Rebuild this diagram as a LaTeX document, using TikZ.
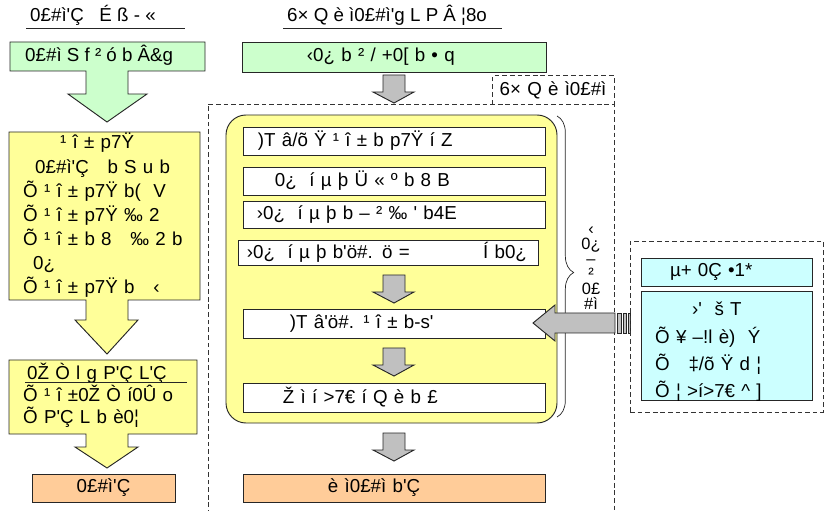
\documentclass[tikz,border=0pt]{standalone}
\usepackage{fontspec}
\newfontfamily\diafont{Liberation Sans}
\definecolor{boxgreen}{RGB}{204,255,204}
\definecolor{boxyellow}{RGB}{255,255,153}
\definecolor{boxorange}{RGB}{255,204,153}
\definecolor{boxcyan}{RGB}{204,255,255}
\definecolor{arrowgray}{RGB}{192,192,192}
\usetikzlibrary{decorations.pathreplacing}

\begin{document}
\begin{tikzpicture}[x=0.03cm, y=-0.03cm,
  every node/.style={font=\diafont\fontsize{16}{20}\selectfont, inner sep=0pt},
  rule/.style={draw=black!85, line width=0.8pt},
  box/.style={rectangle, draw=black!85, line width=0.8pt, align=left},
  txt/.style={anchor=base west, align=left},
  callout/.style={draw=black!85, line width=0.8pt},
  garrow/.style={draw=black!85, line width=0.8pt, fill=arrowgray},
  dframe/.style={draw=black!80, line width=0.8pt, dash pattern=on 4pt off 2.5pt}
]
  \useasboundingbox (0,0) rectangle (833,511);
  % left column
  \node[txt] (ltitle) at (30,22) {0£\#ì'Ç\ \ \ É ß - «};
  \draw[rule] (26,28) -- (185,28);
  \draw[callout, fill=boxgreen] (10,42) -- (205,42) -- (205,71) -- (128,71) -- (128,94) -- (147,94) -- (107,122) -- (68,94) -- (86,94) -- (86,71) -- (10,71) -- cycle;
  \node[txt] (lgtxt) at (25,62) {0£\#ì S f ² ó b Â\&g};
  \draw[callout, fill=boxyellow] (9,132) -- (200,132) -- (200,300) -- (128,300) -- (128,320) -- (138,320) -- (107,354) -- (75,320) -- (86,320) -- (86,300) -- (9,300) -- cycle;
  \node[txt, text width=5.5cm, font={\diafont\fontsize{16}{20.5}\selectfont}] (ly1txt) at (23,149) {\hspace*{1.11cm}¹ î ± p7Ÿ\\\hspace*{0.36cm}0£\#ì'Ç\ \ \ b S u b\\Õ ¹ î ± p7Ÿ b(\ \ V\\Õ ¹ î ± p7Ÿ ‰ 2\\Õ ¹ î ± b 8\ \ \ ‰ 2 b\\\hspace*{0.3cm}0¿\\Õ ¹ î ± p7Ÿ b\ \ \ ‹};
  \draw[callout, fill=boxyellow] (9,360) -- (197,360) -- (197,434) -- (128,434) -- (128,447) -- (138,447) -- (107,468) -- (75,447) -- (86,447) -- (86,434) -- (9,434) -- cycle;
  \node[txt, text width=5.5cm, font={\diafont\fontsize{16}{19.2}\selectfont}] (ly2txt) at (23,379) {\hspace*{0.12cm}0Ž Ò l g P'Ç L'Ç\\Õ ¹ î ±0Ž Ò í0Û o\\Õ P'Ç L b è0¦};
  \draw[rule] (25,382) -- (187,382);
  \node[box, fill=boxorange, align=center, minimum width=4.29cm, minimum height=0.84cm] (lout) at (103.5,488) {0£\#ì'Ç};
  % middle column
  \node[txt] (mtitle) at (287,22) {6× Q è ì0£\#ì'g L P Â ¦8o};
  \draw[rule] (283,28) -- (502,28);
  \node[box, fill=boxgreen, text width=9.12cm, minimum height=0.9cm] (mgreen) at (394,57) {\hspace*{1.95cm}‹0¿ b ² / +0[ b • q};
  \draw[dframe] (208,530) -- (208,104) -- (614,104) -- (614,530);
  \node[text width=3.63cm, minimum height=0.84cm, align=left] (dlab) at (553.5,90) {\hspace*{0.2cm}6× Q è ì0£\#ì};
  \draw[dframe] (dlab.south west) |- (dlab.north east) -- (dlab.south east);
  \node[draw=black!85, line width=0.8pt, fill=boxyellow, rounded corners=0.6cm, minimum width=9.93cm, minimum height=9.24cm] (ybox) at (391.5,269) {};
  \node[box, fill=white, text width=9.06cm, minimum height=0.84cm] (w1) at (394,141) {\hspace*{0.45cm})T â/õ Ÿ ¹ î ± b p7Ÿ í Z};
  \node[box, fill=white, text width=9.06cm, minimum height=0.84cm] (w2) at (394,181) {\hspace*{0.96cm}0¿\ \ í µ þ Ü « º b 8 B};
  \node[box, fill=white, text width=9.06cm, minimum height=0.81cm] (w3) at (394,214.5) {\hspace*{0.42cm}›0¿\ \ í µ þ b – ² ‰ ' b4E};
  \node[box, fill=white, text width=9cm, minimum height=0.75cm] (w4) at (388,252.5) {\hspace*{0.27cm}›0¿\ \ í µ þ b'ö\#. ö =\hspace{2.2cm}Í b0¿};
  \node[box, fill=white, text width=9.06cm, minimum height=0.87cm] (w5) at (394,323.5) {\hspace*{1.41cm})T â'ö\#. ¹ î ± b-s'};
  \node[box, fill=white, text width=9.06cm, minimum height=0.87cm] (w6) at (394,397.5) {\hspace*{1.2cm}Ž ì í >7€ í Q è b £};
  \node[box, fill=boxorange, text width=9.06cm, minimum height=0.84cm] (mout) at (394,488) {\hspace*{2.55cm}è ì0£\#ì b'Ç};
  \foreach \t in {75,275,348,433}
    \draw[garrow] (383,\t) -- (405,\t) -- (405,\t+17) -- (414,\t+17) -- (394,\t+28) -- (373,\t+17) -- (383,\t+17) -- cycle;
  \draw[draw=black!85, line width=0.6pt, decorate, decoration={brace, amplitude=0.5cm, aspect=0.52}] (557,116) -- (557,417);
  \node[align=center, font={\diafont\fontsize{14}{12.8}\selectfont\lineskiplimit=-20pt}] (blab) at (591,268) {‹\\0¿\\–\\²\\0£\\\#ì};
  % right column
  \draw[garrow] (533,323) -- (555,305) -- (555,313) -- (615,313) -- (615,333) -- (555,333) -- (555,341) -- cycle;
  \foreach \a/\b in {617/621,623/626,628/630}
    \draw[garrow] (\a,313) rectangle (\b,333);
  \node[dframe, minimum width=5.79cm, minimum height=5.13cm] (rframe) at (726.5,326.5) {};
  \node[box, fill=boxcyan, text width=5.13cm, minimum height=0.84cm] (c1) at (726.5,272) {\hspace*{0.87cm}µ+ 0Ç •1*};
  \node[box, fill=boxcyan, minimum width=5.13cm, minimum height=3.27cm] (c2) at (726.5,345.5) {};
  \node[txt, text width=4.6cm, font={\diafont\fontsize{16}{23.3}\selectfont}] (c2txt) at (655,316) {\hspace*{1.11cm}›'\ \ š T\\Õ ¥ –!l è)\ \ Ý\\Õ\ \ \ ‡/õ Ÿ d ¦\\Õ ¦ >í>7€ \textasciicircum\ ]};
\end{tikzpicture}
\end{document}
